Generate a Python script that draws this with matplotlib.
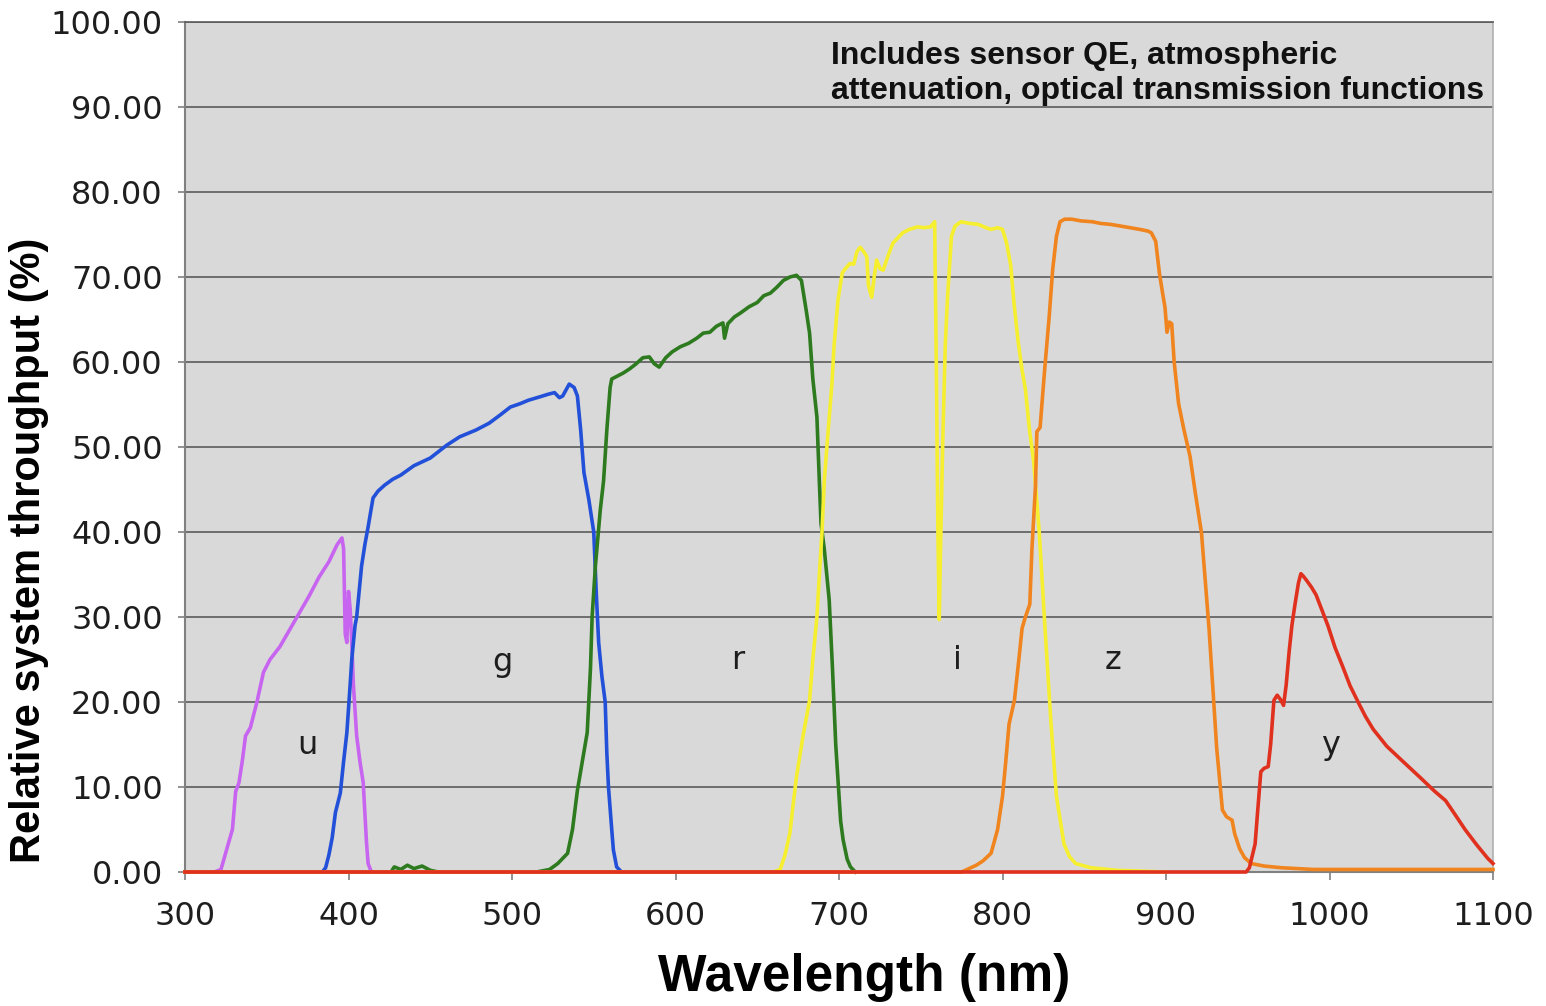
import matplotlib
matplotlib.use("Agg")
import matplotlib.pyplot as plt
from matplotlib.ticker import FormatStrFormatter

# ---- data ----
u_wl = [300, 318, 322, 326, 329, 331, 333, 335, 337, 340, 344, 348, 352, 358, 364, 370, 376, 382, 388,
        393, 396, 397, 398, 399, 400, 401, 402, 403, 405, 407, 409, 410, 411, 412, 414, 420]
u_val = [0, 0, 0.3, 3, 5, 9.5, 10.5, 13, 16, 17, 20, 23.5, 25, 26.5, 28.5, 30.5, 32.5, 34.7, 36.5,
         38.5, 39.3, 38, 28, 27, 33, 31, 27, 22, 16, 13, 10.5, 7, 3.5, 1, 0, 0]

g_wl = [300, 384, 386, 388, 390, 392, 395, 397, 399, 401, 402, 404, 405, 407, 408, 410, 412, 415, 418,
        422, 427, 432, 440, 450, 460, 468, 478, 486, 493, 499, 505, 510, 517, 522, 526, 529, 531, 535,
        538, 540, 542, 544, 547, 550, 551.5, 553, 555, 557, 558, 559, 561, 562, 564, 567, 600]
g_val = [0, 0, 0.5, 2, 4, 7, 9.3, 13, 16.4, 22, 25, 29, 30, 34, 36, 38.5, 40.6, 44, 44.8,
         45.5, 46.2, 46.7, 47.8, 48.7, 50.2, 51.2, 52, 52.8, 53.8, 54.7, 55.1, 55.5, 55.9, 56.2, 56.4, 55.8, 56, 57.4,
         57, 56, 52, 47, 43.8, 40, 33, 27, 23, 20, 14, 10, 5, 2.6, 0.6, 0, 0]

r_wl = [300, 426, 428, 432, 436, 440, 445, 450, 455, 515, 523, 528, 534, 537, 540, 543, 546, 548, 549,
        551, 554, 556, 558, 560, 561, 564, 568, 572, 576, 580, 584, 587, 590, 594, 598, 603, 608, 613,
        617, 621, 625, 629, 630, 632, 636, 640, 645, 650, 654, 658, 662, 666, 670, 674, 677, 680, 682,
        684, 686.5, 688, 689, 691, 694, 696, 698, 699.5, 701, 702.5, 705, 707, 710]
r_val = [0, 0, 0.6, 0.3, 0.8, 0.4, 0.7, 0.2, 0, 0, 0.3, 1, 2.2, 5, 9.6, 13, 16.4, 24, 30,
         36, 42.6, 46, 52, 57, 58, 58.3, 58.7, 59.2, 59.8, 60.5, 60.6, 59.8, 59.4, 60.5, 61.2, 61.8, 62.2, 62.8,
         63.4, 63.5, 64.2, 64.6, 62.8, 64.5, 65.3, 65.8, 66.5, 67, 67.8, 68.1, 68.8, 69.6, 70, 70.2, 69.6, 66, 63.4,
         58, 53.5, 45.8, 41, 38, 32, 24, 15, 10.5, 6, 3.8, 1.5, 0.6, 0]

i_wl = [300, 660, 664, 667, 670, 672, 674, 678, 682, 684, 686.5, 688, 689.6, 691, 693, 695.7, 697, 699.4,
        702, 704, 706.7, 709, 711, 713, 715, 717, 718, 720, 721.5, 723, 725, 727, 730, 733, 736, 739, 743,
        748, 752, 756, 758.5, 759.5, 760.5, 761.3, 762.3, 763.5, 765, 766.5, 768.8, 771, 774.6, 780, 785,
        790, 793, 797, 800, 802.5, 805, 807, 809.5, 812, 814, 816.5, 819, 822.5, 826, 829.7, 833, 837.6,
        841, 844.7, 854, 870, 900]
i_val = [0, 0, 0.3, 2, 4.6, 8, 11.2, 16, 20.2, 25, 30, 35, 40, 46, 51, 57.5, 62, 67.3,
         70.5, 71, 71.6, 71.5, 73, 73.5, 73, 72.4, 69, 67.6, 70, 72, 71, 70.8, 72.5, 74, 74.6, 75.2, 75.6,
         75.9, 75.8, 75.9, 76.5, 60, 40, 29.7, 40, 51, 62, 68, 74.8, 76, 76.5, 76.3, 76.2,
         75.8, 75.6, 75.8, 75.6, 74, 71.4, 67, 62.5, 59, 56.8, 52, 48.4, 39.9, 28.7, 17.4, 8.9, 3.3,
         1.8, 1, 0.5, 0.2, 0]

z_wl = [300, 775, 784, 788, 793, 797, 800, 802, 804, 807.3, 810, 812, 814, 816.7, 818, 820.2, 821, 823,
        824.5, 826, 828.5, 830.7, 833, 835.2, 838, 842.4, 848, 855, 860, 865.8, 872, 878, 884, 889, 891,
        893.7, 896, 898, 899.4, 900.6, 902, 903.5, 905, 907.7, 911, 914.7, 918, 921.7, 926.3, 931, 934.5,
        937, 940.4, 942, 945, 948, 952, 960, 970.7, 990, 1100]
z_val = [0, 0, 0.8, 1.3, 2.2, 5, 8.9, 13, 17.4, 20.2, 25, 28.7, 30, 31.5, 38, 45.5, 51.8, 52.3,
         56, 59.6, 65.2, 70.9, 74.8, 76.5, 76.8, 76.8, 76.6, 76.5, 76.3, 76.2, 76, 75.8, 75.6, 75.4, 75.2,
         74.2, 70.4, 68, 66.4, 63.5, 64.7, 64.5, 60, 55.1, 52, 48.9, 44.5, 39.9, 28.7, 14.6, 7.3,
         6.5, 6.1, 4.5, 2.75, 1.7, 1, 0.7, 0.5, 0.3, 0.3]

y_wl = [300, 949, 951, 954.5, 956, 958, 960, 962.5, 964, 966, 968, 970, 971.9, 973.5, 975.3, 977, 978.9,
        981, 982.5, 984, 986, 989, 991.8, 995, 999, 1003.4, 1008, 1012.6, 1018, 1022, 1026.7, 1035, 1045.5,
        1055, 1064.3, 1071, 1077, 1082.9, 1090, 1096.8, 1100]
y_val = [0, 0, 0.5, 3.3, 7, 11.8, 12.2, 12.4, 15, 20.2, 20.8, 20.3, 19.6, 22, 25.9, 29, 31.5,
         34, 35.1, 34.8, 34.3, 33.5, 32.6, 31, 29, 26.4, 24.2, 21.9, 19.8, 18.3, 16.8, 14.8, 12.9,
         11.2, 9.5, 8.4, 6.7, 5, 3.2, 1.6, 1]

band_names = ["u", "g", "r", "i", "z", "y"]
band_label_x = [375, 494, 638, 772.5, 867.5, 1000.5]
band_label_y = [14.9, 24.7, 24.9, 24.9, 24.9, 14.9]
yticks = [0, 10, 20, 30, 40, 50, 60, 70, 80, 90, 100]
xticks = [300, 400, 500, 600, 700, 800, 900, 1000, 1100]

series = [(u_wl, u_val, "#c865f0"), (g_wl, g_val, "#2250d8"), (r_wl, r_val, "#2d7a1f"),
          (i_wl, i_val, "#f6ef30"), (z_wl, z_val, "#f0841e"), (y_wl, y_val, "#e0301e")]

W, H = 1546, 1006
fig = plt.figure(figsize=(W / 100, H / 100), dpi=100)
fig.patch.set_facecolor("white")
ax = fig.add_axes([185 / W, 1 - 872 / H, (1493 - 185) / W, (872 - 22) / H])
ax.set_facecolor("#d9d9d9")

for k, (xs, ys, c) in enumerate(series):
    ax.plot(xs, ys, color=c, lw=2.6, clip_on=False, zorder=3 + k, solid_joinstyle="round")

ax.set_xlim(300, 1100)
ax.set_ylim(0, 100)
ax.set_yticks(yticks)
ax.set_xticks(xticks)
ax.yaxis.set_major_formatter(FormatStrFormatter("%.2f"))
ax.grid(axis="y", color="#5c5c5c", lw=1.2, zorder=1)
ax.set_axisbelow(True)
ax.tick_params(axis="y", direction="out", length=5, width=1.2, color="#808080",
               labelsize=23, labelcolor="#1e1e1e", pad=11)
ax.tick_params(axis="x", direction="out", length=6, width=1.2, color="#808080",
               labelsize=23, labelcolor="#1e1e1e", pad=15)
for side in ["left", "bottom"]:
    ax.spines[side].set_color("#808080")
    ax.spines[side].set_linewidth(1.5)
ax.spines["right"].set_color("#b0b0b0")
ax.spines["right"].set_linewidth(1.2)
ax.spines["top"].set_color("#5c5c5c")
ax.spines["top"].set_linewidth(1.2)

for name, bx, by in zip(band_names, band_label_x, band_label_y):
    ax.text(bx, by, name, ha="center", va="center", fontsize=23, color="#1e1e1e", zorder=10)

ax.text(695, 97.8, "Includes sensor QE, atmospheric\nattenuation, optical transmission functions",
        ha="left", va="top", fontsize=23, fontweight="bold", family="Liberation Sans",
        color="#111111", linespacing=1.25, zorder=10)

fig.text(29 / W, 1 - 550 / H, "Relative system throughput (%)", rotation=90, ha="center", va="center",
         fontsize=30, fontweight="bold", family="Liberation Sans", color="black")
fig.text(864 / W, 1 - 978 / H, "Wavelength (nm)", ha="center", va="center",
         fontsize=37, fontweight="bold", family="Liberation Sans", color="black")

fig.savefig("out.png", dpi=100)
